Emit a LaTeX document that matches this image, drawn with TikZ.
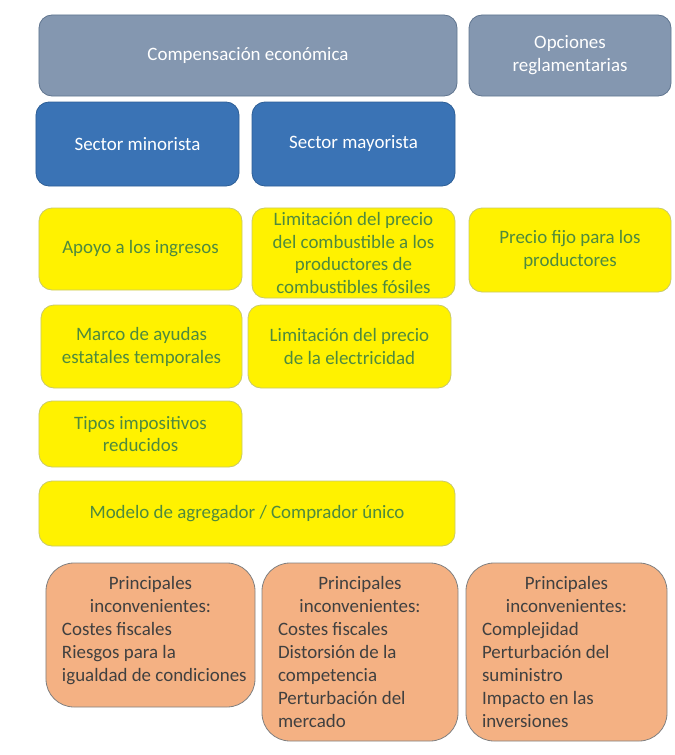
\documentclass[tikz,border=0pt]{standalone}
\usepackage{fontspec}
\setmainfont{Carlito}
\definecolor{grisazul}{HTML}{8497B0}
\definecolor{grisazulborde}{HTML}{60758F}
\definecolor{azulsector}{HTML}{3A73B5}
\definecolor{azulborde}{HTML}{2C5E96}
\definecolor{amarilloborde}{HTML}{C9C96A}
\definecolor{verdetexto}{HTML}{4E8A3E}
\definecolor{naranja}{HTML}{F4B183}
\newcommand{\lin}[1]{\mbox{#1}}
\begin{document}
\begin{tikzpicture}[x=1bp, y=-1bp, font=\fontsize{19}{23}\selectfont, line join=round,
    caja/.style={rounded corners=13bp, align=center, inner sep=4bp, line width=0.8bp},
    titulo/.style={caja, fill=grisazul, draw=grisazulborde, text=white},
    sector/.style={caja, fill=azulsector, draw=azulborde, text=white},
    medida/.style={caja, fill=yellow, draw=amarilloborde, text=verdetexto},
    inconv/.style={rounded corners=28bp, fill=naranja, draw=gray, text=black!75,
        align=flush left, inner xsep=16bp, line width=0.8bp}]
    \useasboundingbox (0,0) rectangle (675,755);
    % cabecera
    \node[titulo, minimum width=418bp, minimum height=81bp] (comp) at (248,55.5) {Compensación económica};
    \node[titulo, minimum width=202bp, minimum height=81bp] (opc) at (570,55.5) {Opciones\\reglamentarias};
    \node[sector, minimum width=203bp, minimum height=84bp] (minor) at (137.5,144) {Sector minorista};
    \node[sector, minimum width=203bp, minimum height=84bp] (mayor) at (353.5,144) {Sector mayorista};
    % medidas
    \node[medida, minimum width=203bp, minimum height=82bp] (apoyo) at (140.5,249) {Apoyo a los ingresos};
    \node[medida, minimum width=203bp, minimum height=90bp] (limcomb) at (353.5,253)
        {Limitación del precio\\del combustible a los\\productores de\\combustibles fósiles};
    \node[medida, minimum width=202bp, minimum height=84bp] (precio) at (570,250) {Precio fijo para los\\productores};
    \node[medida, minimum width=201bp, minimum height=83bp] (marco) at (141.5,346.5) {Marco de ayudas\\estatales temporales};
    \node[medida, minimum width=203bp, minimum height=83bp] (limelec) at (349.5,346.5) {Limitación del precio\\de la electricidad};
    \node[medida, minimum width=203bp, minimum height=66bp] (tipos) at (140.5,434) {Tipos impositivos\\reducidos};
    \node[medida, minimum width=416bp, minimum height=65bp] (modelo) at (247,513.5) {Modelo de agregador / Comprador único};
    % inconvenientes
    \node[inconv, text width=177bp, minimum height=144bp] (inc1) at (150.5,635)
        {{\centering Principales\\inconvenientes:\par}\lin{Costes fiscales}\\\lin{Riesgos para la}\\
         \lin{igualdad de condiciones}\rule[-12bp]{0pt}{12bp}};
    \node[inconv, text width=164bp, minimum height=178bp] (inc2) at (360,652)
        {{\centering Principales\\inconvenientes:\par}\lin{Costes fiscales}\\\lin{Distorsión de la}\\
         \lin{competencia}\\\lin{Perturbación del}\\\lin{mercado}};
    \node[inconv, text width=169bp, minimum height=178bp] (inc3) at (566.5,652)
        {{\centering Principales\\inconvenientes:\par}\lin{Complejidad}\\\lin{Perturbación del}\\
         \lin{suministro}\\\lin{Impacto en las}\\\lin{inversiones}};
\end{tikzpicture}
\end{document}
